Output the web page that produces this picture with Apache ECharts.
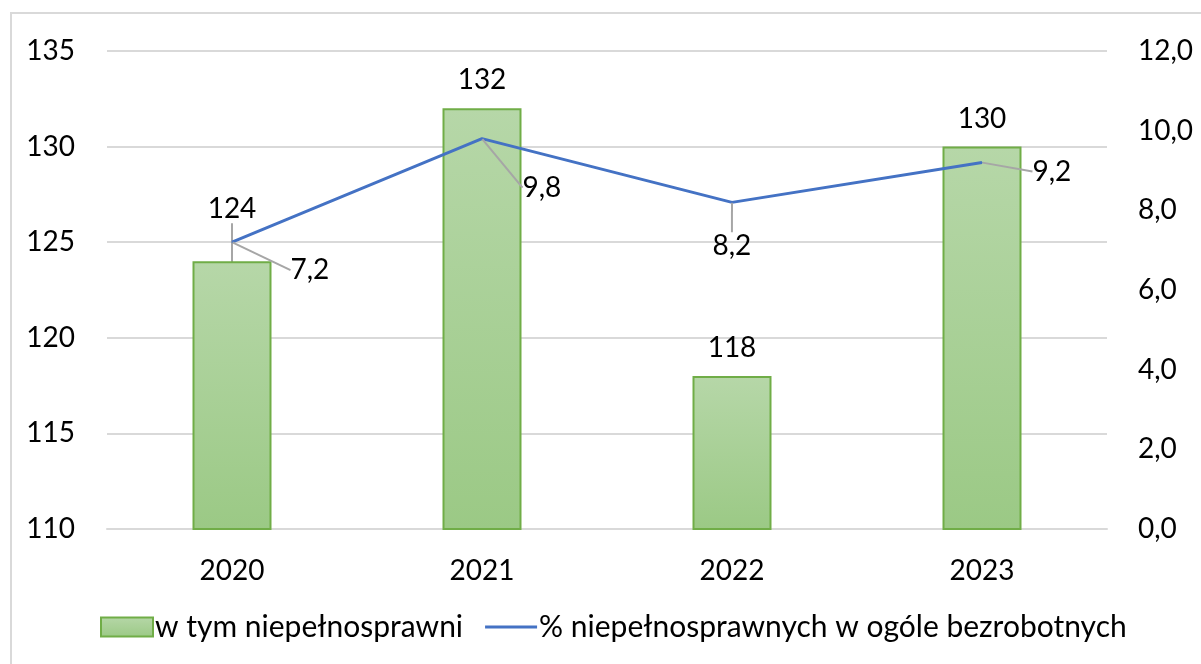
<!DOCTYPE html>
<html>
<head>
<meta charset="utf-8">
<script src="https://cdn.jsdelivr.net/npm/echarts@6/dist/echarts.min.js"></script>
<style>
  html, body { margin: 0; padding: 0; background: #fff; }
  #chart { width: 1201px; height: 664px; }
  #frame { position: absolute; left: 10px; top: 12px; width: 1300px; height: 800px; border: 2px solid #d9d9d9; pointer-events: none; }
</style>
</head>
<body>
<div id="chart"></div>
<div id="frame"></div>
<script>
const years = ['2020', '2021', '2022', '2023'];
const disabledCount = [124, 132, 118, 130];
const disabledShare = [7.2, 9.8, 8.2, 9.2];
const barName = 'w tym niepełnosprawni';
const lineName = '% niepełnosprawnych w ogóle bezrobotnych';

const font = 'Lato, sans-serif';
const fs = 28;
const comma = v => v.toFixed(1).replace('.', ',');

// label nudges so they sit where the original has them
const lineLabelShift = [[53, 28], [35, 49], [-25, 44], [45, 9]];
const barLabelShift = [-24, 0, 0, 0];

const chart = echarts.init(document.getElementById('chart'), null, { renderer: 'canvas' });

chart.setOption({
    animation: false,
    textStyle: { fontFamily: font },
    grid: { left: 107, right: 94, top: 51, bottom: 135 },
    legend: {
        bottom: 17,
        left: 95,
        itemWidth: 52,
        itemHeight: 19,
        itemGap: 22,
        symbolKeepAspect: true,
        textStyle: { fontSize: 30, color: '#000', fontFamily: font, padding: [0, 0, 0, -3] },
        data: [
            { name: barName, icon: 'rect' },
            { name: lineName, icon: 'path://M0,0h52v3h-52z' }
        ]
    },
    xAxis: {
        type: 'category',
        data: years,
        axisLine: { lineStyle: { color: '#d9d9d9', width: 2 } },
        axisTick: { show: false },
        axisLabel: { fontSize: fs, color: '#000', margin: 28 }
    },
    yAxis: [{
        type: 'value',
        min: 110,
        max: 135,
        interval: 5,
        axisLabel: { fontSize: fs, color: '#000', margin: 32 },
        splitLine: { lineStyle: { color: '#d9d9d9', width: 2 } }
    }, {
        type: 'value',
        min: 0,
        max: 12,
        interval: 2,
        axisLabel: { fontSize: fs, color: '#000', margin: 31, formatter: comma },
        splitLine: { show: false }
    }],
    series: [{
        name: barName,
        type: 'bar',
        data: disabledCount.map((v, i) => ({
            value: v,
            labelLine: { show: barLabelShift[i] !== 0 }
        })),
        barWidth: 79,
        itemStyle: {
            color: new echarts.graphic.LinearGradient(0, 0, 0, 1, [
                { offset: 0, color: '#b6d7a8' },
                { offset: 1, color: '#9bc985' }
            ]),
            borderColor: '#70ad47',
            borderWidth: 2
        },
        label: { show: true, position: 'top', distance: 14, fontSize: fs, color: '#000' },
        labelLine: { lineStyle: { color: '#a6a6a6', width: 2 } },
        labelLayout: p => ({ dy: barLabelShift[p.dataIndex] })
    }, {
        name: lineName,
        type: 'line',
        yAxisIndex: 1,
        data: disabledShare,
        symbol: 'circle',
        symbolSize: 1,
        lineStyle: { color: '#4472c4', width: 3 },
        itemStyle: { color: '#4472c4' },
        label: {
            show: true,
            position: 'right',
            fontSize: fs,
            color: '#000',
            formatter: p => comma(p.value)
        },
        labelLine: { show: true, lineStyle: { color: '#a6a6a6', width: 2 } },
        labelLayout: p => ({ dx: lineLabelShift[p.dataIndex][0], dy: lineLabelShift[p.dataIndex][1] })
    }]
});
</script>
</body>
</html>
